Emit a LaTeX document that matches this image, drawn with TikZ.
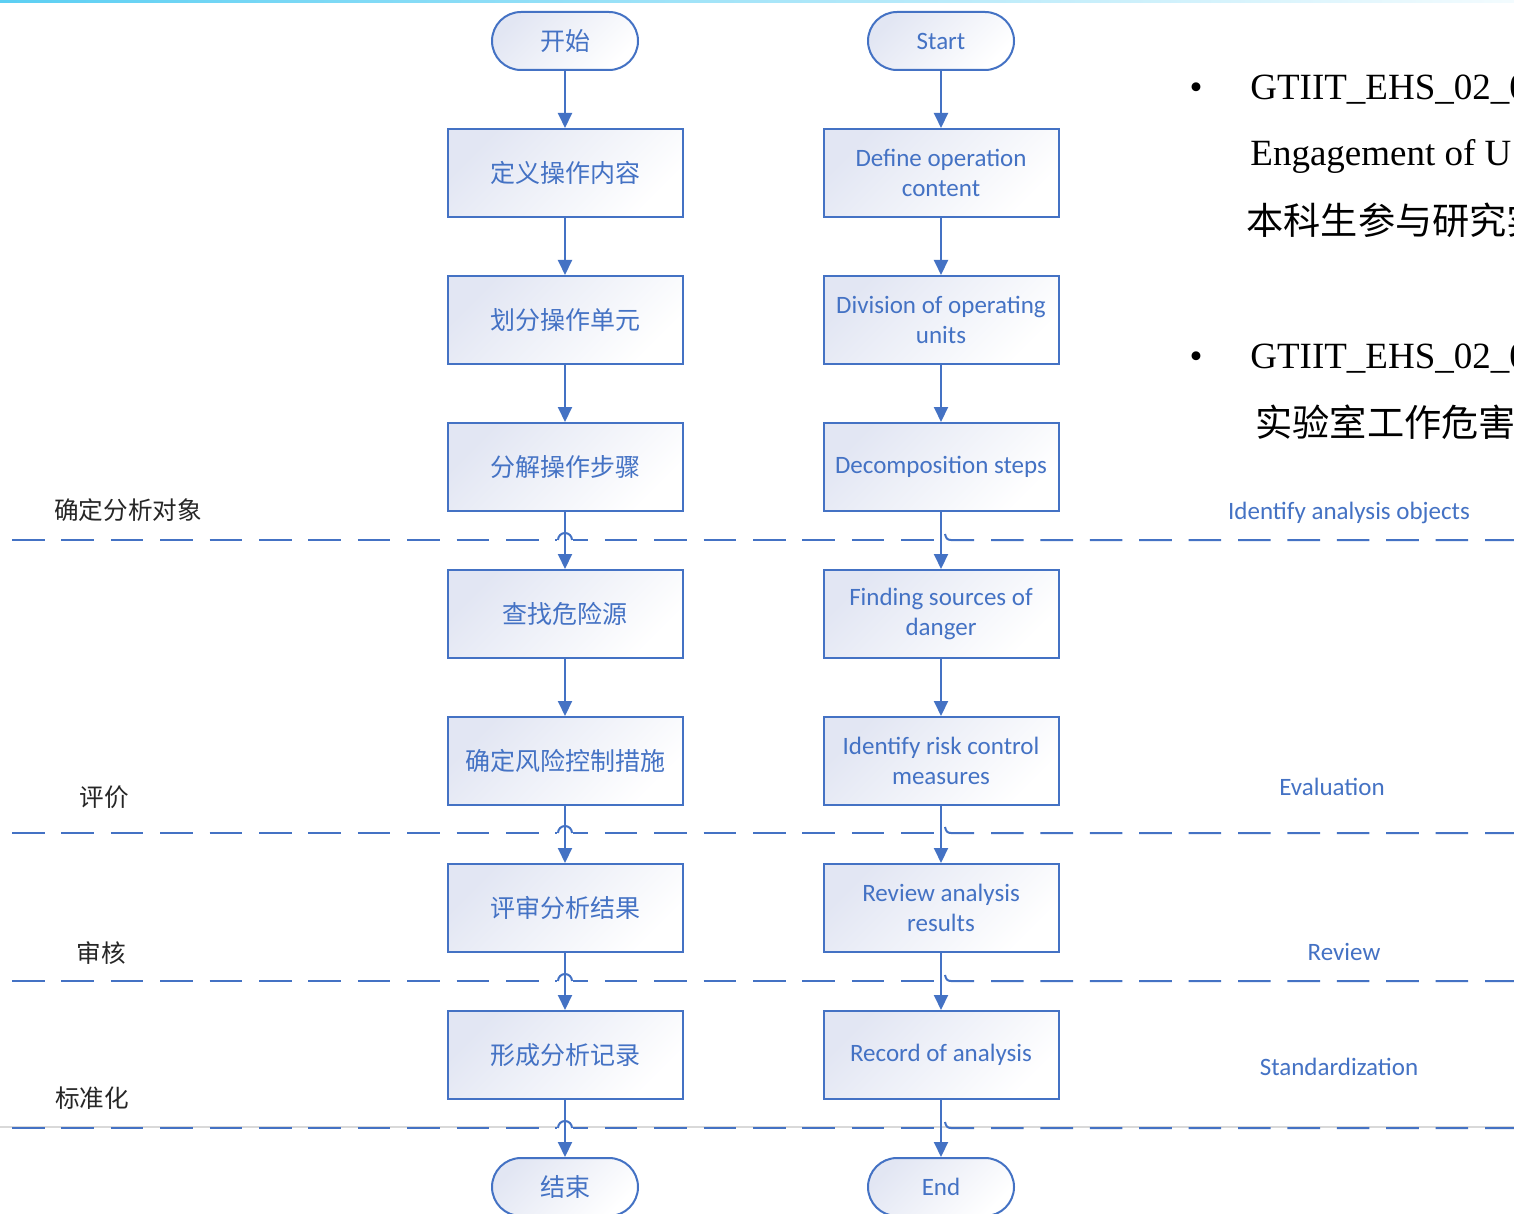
\documentclass[tikz,border=0pt]{standalone}
\usepackage{fontspec}
\setmainfont{Liberation Serif}
\newfontfamily\cjk{Noto Sans CJK SC}
\newfontfamily\calib{Carlito}
\usetikzlibrary{arrows.meta}
\definecolor{myblue}{HTML}{4472C4}
\definecolor{boxfill}{HTML}{E2E6F3}
\definecolor{topcyan}{HTML}{33C3F0}
\tikzset{
  flowbox/.style={draw=myblue, line width=1pt, top color=boxfill, bottom color=white,
    shading angle=45, minimum width=117.5pt, minimum height=44pt, text=myblue,
    align=center, inner sep=2pt},
  zhbox/.style={flowbox, font=\cjk\fontsize{12.5pt}{15pt}\selectfont},
  enbox/.style={flowbox, font=\calib\fontsize{12.5pt}{15pt}\selectfont},
  zhterm/.style={zhbox, rounded corners=14.5pt, minimum width=73pt, minimum height=29pt},
  enterm/.style={enbox, rounded corners=14.5pt, minimum width=73pt, minimum height=29pt},
  conn/.style={myblue, line width=1pt, -{Triangle[length=7.5pt,width=7pt]}},
  sepline/.style={myblue, line width=1pt, dash pattern=on 16.3pt off 8.4pt},
  hop/.style={myblue, line width=1pt},
  llab/.style={font=\cjk\fontsize{12.3pt}{14pt}\selectfont, text=black!85, inner sep=0},
  rlab/.style={font=\calib\fontsize{12.5pt}{15pt}\selectfont, text=myblue, inner sep=0},
  big/.style={font=\fontsize{18.5pt}{22pt}\selectfont, inner sep=0},
  bigzh/.style={font=\cjk\fontsize{18.6pt}{22pt}\selectfont, inner sep=0},
}
\begin{document}
\begin{tikzpicture}[x=0.5pt,y=-0.5pt]
\useasboundingbox (0,0) rectangle (1514,1214);
\clip (0,0) rectangle (1514,1214);
\fill[white] (0,0) rectangle (1514,1214);
% top line
\shade[left color=topcyan!80, right color=topcyan!6] (0,0) rectangle (1514,2.5);
% light gray line near the last separator
\draw[black!15, line width=0.6pt] (0,1127) -- (1514,1127);
% separators
\foreach \yy in {540,833,981,1128}{
  \draw[sepline] (12,\yy) -- (941,\yy);
  \draw[sepline] (945,\yy-6) .. controls (946,\yy-2) and (947,\yy) .. (951,\yy) -- (1514,\yy);
  \fill[white] (557,\yy-3) rectangle (573,\yy+3);
  \draw[hop] (558,\yy) arc[start angle=180, end angle=360, radius=7];
}
% left column
\node[zhterm] (L0) at (565,41) {开始};
\node[zhbox] (L1) at (565,173) {定义操作内容};
\node[zhbox] (L2) at (565,320) {划分操作单元};
\node[zhbox] (L3) at (565,467) {分解操作步骤};
\node[zhbox] (L4) at (565,614) {查找危险源};
\node[zhbox] (L5) at (565,761) {确定风险控制措施};
\node[zhbox] (L6) at (565,908) {评审分析结果};
\node[zhbox] (L7) at (565,1055) {形成分析记录};
\node[zhterm] (L8) at (565,1187) {结束};
% right column
\node[enterm] (R0) at (941,41) {Start};
\node[enbox] (R1) at (941,173) {Define operation\\content};
\node[enbox] (R2) at (941,320) {Division of operating\\units};
\node[enbox] (R3) at (941,467) {Decomposition steps};
\node[enbox] (R4) at (941,614) {Finding sources of\\danger};
\node[enbox] (R5) at (941,761) {Identify risk control\\measures};
\node[enbox] (R6) at (941,908) {Review analysis\\results};
\node[enbox] (R7) at (941,1055) {Record of analysis};
\node[enterm] (R8) at (941,1187) {End};
% connectors
\foreach \a/\b in {0/1,1/2,2/3,3/4,4/5,5/6,6/7,7/8}{
  \draw[conn] (L\a) -- (L\b);
  \draw[conn] (R\a) -- (R\b);
}
% left labels
\node[llab] (la) at (128,510) {确定分析对象};
\node[llab] (lb) at (104,797) {评价};
\node[llab] (lc) at (101,953) {审核};
\node[llab] (ld) at (92,1098) {标准化};
% right labels
\node[rlab] (ra) at (1349,513) {Identify analysis objects};
\node[rlab] (rb) at (1332,787) {Evaluation};
\node[rlab] (rc) at (1344,952) {Review};
\node[rlab] (rd) at (1339,1067) {Standardization};
% right text block
\node[big, anchor=base] (bu1) at (1196,100) {•};
\node[big, anchor=base west] (t1) at (1250,100) {GTIIT\_EHS\_02\_0};
\node[big, anchor=base west] (t2) at (1250,166) {Engagement of U};
\node[bigzh, anchor=west] (t3) at (1246,220) {本科生参与研究实};
\node[big, anchor=base] (bu2) at (1196,368) {•};
\node[big, anchor=base west] (t4) at (1250,368) {GTIIT\_EHS\_02\_0};
\node[bigzh, anchor=west] (t5) at (1255,422) {实验室工作危害};
\end{tikzpicture}
\end{document}
